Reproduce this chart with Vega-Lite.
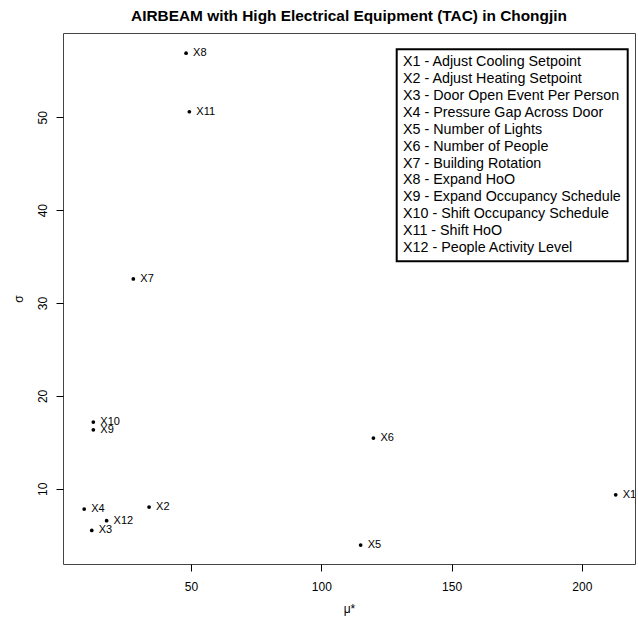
{
  "$schema": "https://vega.github.io/schema/vega-lite/v6.json",
  "width": 572,
  "height": 531,
  "autosize": {"type": "none"},
  "padding": {"left": 63, "top": 33, "right": 3, "bottom": 53},
  "background": "white",
  "config": {
    "font": "Liberation Sans",
    "view": {"stroke": "#444", "strokeWidth": 1}
  },
  "title": {
    "text": "AIRBEAM with High Electrical Equipment (TAC) in Chongjin",
    "fontSize": 15.4,
    "fontWeight": "bold",
    "color": "black",
    "offset": 9,
    "anchor": "middle",
    "font": "Liberation Sans"
  },
  "data": {
    "values": [
      {"id": "X1", "mu": 213.0, "sigma": 9.35, "desc": "X1 - Adjust Cooling Setpoint"},
      {"id": "X2", "mu": 33.9, "sigma": 8.03, "desc": "X2 - Adjust Heating Setpoint"},
      {"id": "X3", "mu": 11.9, "sigma": 5.51, "desc": "X3 - Door Open Event Per Person"},
      {"id": "X4", "mu": 9.0, "sigma": 7.81, "desc": "X4 - Pressure Gap Across Door"},
      {"id": "X5", "mu": 115.1, "sigma": 3.94, "desc": "X5 - Number of Lights"},
      {"id": "X6", "mu": 120.0, "sigma": 15.46, "desc": "X6 - Number of People"},
      {"id": "X7", "mu": 27.85, "sigma": 32.6, "desc": "X7 - Building Rotation"},
      {"id": "X8", "mu": 48.1, "sigma": 56.9, "desc": "X8 - Expand HoO"},
      {"id": "X9", "mu": 12.5, "sigma": 16.35, "desc": "X9 - Expand Occupancy Schedule"},
      {"id": "X10", "mu": 12.5, "sigma": 17.18, "desc": "X10 - Shift Occupancy Schedule"},
      {"id": "X11", "mu": 49.35, "sigma": 50.6, "desc": "X11 - Shift HoO"},
      {"id": "X12", "mu": 17.6, "sigma": 6.56, "desc": "X12 - People Activity Level"}
    ]
  },
  "encoding": {
    "x": {
      "field": "mu",
      "type": "quantitative",
      "scale": {"domain": [0.86, 220.4], "nice": false, "zero": false},
      "axis": {
        "title": "μ*",
        "values": [50, 100, 150, 200],
        "grid": false,
        "domain": false,
        "tickColor": "black",
        "tickSize": 7,
        "labelPadding": 10,
        "labelFontSize": 12,
        "labelColor": "black",
        "titleFontSize": 12,
        "titleFontWeight": "normal",
        "titleColor": "black",
        "titlePadding": 11
      }
    },
    "y": {
      "field": "sigma",
      "type": "quantitative",
      "scale": {"domain": [1.9, 59.08], "nice": false, "zero": false},
      "axis": {
        "title": "σ",
        "values": [10, 20, 30, 40, 50],
        "grid": false,
        "domain": false,
        "tickColor": "black",
        "tickSize": 7,
        "labelAngle": -90,
        "labelAlign": "center",
        "labelBaseline": "bottom",
        "labelPadding": 7,
        "labelFontSize": 12,
        "labelColor": "black",
        "titleFontSize": 12,
        "titleFontWeight": "normal",
        "titleColor": "black",
        "titlePadding": 11
      }
    }
  },
  "layer": [
    {
      "mark": {"type": "point", "filled": true, "shape": "circle", "size": 14, "opacity": 1},
      "encoding": {
        "color": {
          "field": "desc",
          "type": "nominal",
          "scale": {
            "domain": [
              "X1 - Adjust Cooling Setpoint",
              "X2 - Adjust Heating Setpoint",
              "X3 - Door Open Event Per Person",
              "X4 - Pressure Gap Across Door",
              "X5 - Number of Lights",
              "X6 - Number of People",
              "X7 - Building Rotation",
              "X8 - Expand HoO",
              "X9 - Expand Occupancy Schedule",
              "X10 - Shift Occupancy Schedule",
              "X11 - Shift HoO",
              "X12 - People Activity Level"
            ],
            "range": ["black", "black", "black", "black", "black", "black", "black", "black", "black", "black", "black", "black"]
          },
          "legend": {
            "title": null,
            "orient": "none",
            "legendX": 333.7,
            "legendY": 16.3,
            "strokeColor": "black",
            "padding": 6,
            "symbolSize": 0,
            "symbolOpacity": 0,
            "symbolStrokeWidth": 0,
            "labelOffset": -14,
            "labelFontSize": 14.3,
            "labelColor": "black",
            "labelLimit": 400,
            "rowPadding": 1.85,
            "encode": {"legend": {"update": {"strokeWidth": {"value": 2}}}}
          }
        }
      }
    },
    {
      "mark": {"type": "text", "align": "left", "baseline": "middle", "dx": 7, "fontSize": 11, "clip": true, "color": "black"},
      "encoding": {
        "text": {"field": "id"}
      }
    }
  ]
}
